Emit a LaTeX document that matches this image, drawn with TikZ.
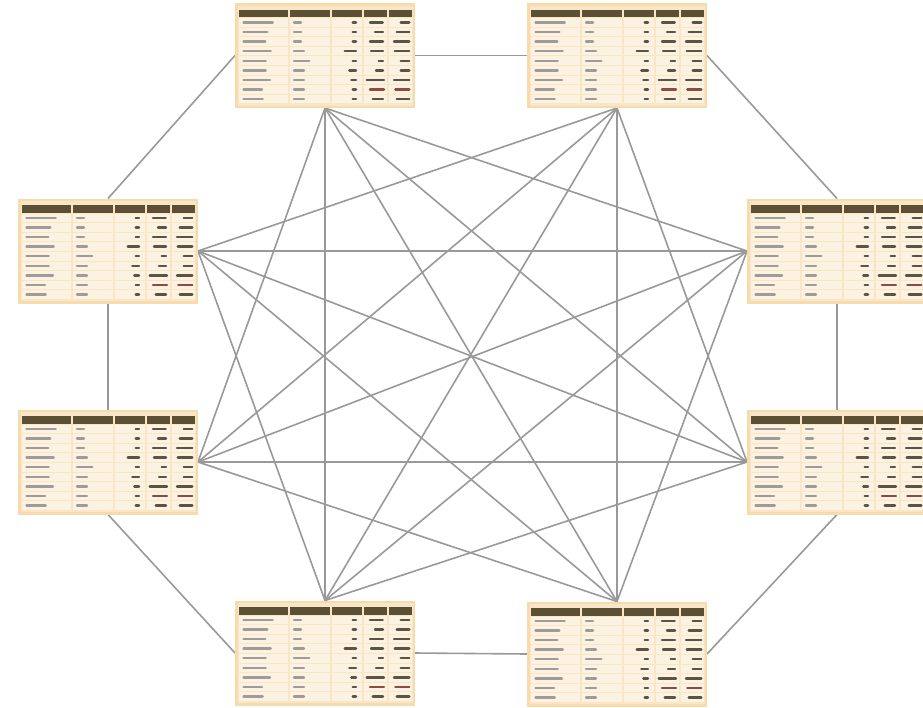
\documentclass[tikz,border=0pt]{standalone}
\definecolor{tblout}{HTML}{F6DBAC}
\definecolor{tblin}{HTML}{F8E6C6}
\definecolor{cellc}{HTML}{FCF2E2}
\definecolor{hdrc}{HTML}{5C5034}
\definecolor{dgray}{HTML}{A09A98}
\definecolor{ddark}{HTML}{5B5440}
\definecolor{dred}{HTML}{8E4A40}
\definecolor{edgec}{HTML}{999999}
\tikzset{
  tnode/.style={rectangle,minimum width=180pt,minimum height=105pt,inner sep=0pt,outer sep=0pt},
  link/.style={draw=edgec,line width=1.6pt},
  dsh/.style={line width=2.4pt,line cap=round},
  tbl/.pic={
    \fill[tblout] (0,0) rectangle (180,105);
    \fill[tblin] (2.5,2.5) rectangle (177.5,102.5);
    \foreach \a/\b in {4/53,55/95,97/127,129/152,154/177}{
      \fill[hdrc] (\a,6.5) rectangle (\b,14);
      \foreach \i in {0,...,8}{
        \fill[cellc] (\a,15+\i*9.6) rectangle (\b,23.6+\i*9.6);
      }
    }
    \foreach \i/\ca/\cb/\cc/\cd/\ce/\cf/\col in {
      0/37.7/66/117.7/135/147.7/165.7/ddark,
      1/32.3/66/117.7/140/148/161.7/ddark,
      2/30.3/66/117.7/135/148/159/ddark,
      3/35.7/69/109.7/136/148/159.7/ddark,
      4/30.7/74.3/117.7/143.7/148/165.7/ddark,
      5/30.7/69/114.3/141/148/165.7/ddark,
      6/35/69/116.3/131.7/149/159/ddark,
      7/27/69/117.7/135/149/160.3/dred,
      8/27.7/69/117.7/137.7/148/161.7/ddark}{
      \draw[dsh,dgray] (8.5,19.3+\i*9.6) -- (\ca,19.3+\i*9.6);
      \draw[dsh,dgray] (59,19.3+\i*9.6) -- (\cb,19.3+\i*9.6);
      \draw[dsh,ddark] (\cc,19.3+\i*9.6) -- (121,19.3+\i*9.6);
      \draw[dsh,\col] (\cd,19.3+\i*9.6) -- (\ce,19.3+\i*9.6);
      \draw[dsh,\col] (\cf,19.3+\i*9.6) -- (174.3,19.3+\i*9.6);
    }
  }
}
\begin{document}
\begin{tikzpicture}[x=1pt,y=-1pt]
\useasboundingbox (0,0) rectangle (923,707);
\clip (0,0) rectangle (923,707);
\node[tnode] (T1) at (325,55.5) {};
\node[tnode] (T2) at (617,55.5) {};
\node[tnode] (T3) at (108,251) {};
\node[tnode] (T4) at (837,251) {};
\node[tnode] (T5) at (108,462) {};
\node[tnode] (T6) at (837,462) {};
\node[tnode] (T7) at (325,653) {};
\node[tnode] (T8) at (617,654) {};
% outer ring
\draw[link] (T1.west) -- (T3.north);
\draw[link] (T1.east) -- (T2.west);
\draw[link] (T2.east) -- (T4.north);
\draw[link] (T3.south) -- (T5.north);
\draw[link] (T4.south) -- (T6.north);
\draw[link] (T5.south) -- (T7.west);
\draw[link] (T7.east) -- (T8.west);
\draw[link] (T8.east) -- (T6.south);
% inner
\coordinate (A1) at (T1.south);
\coordinate (A2) at (T2.south);
\coordinate (A3) at (T3.east);
\coordinate (A4) at (T4.west);
\coordinate (A5) at (T5.east);
\coordinate (A6) at (T6.west);
\coordinate (A7) at (T7.north);
\coordinate (A8) at (T8.north);
\foreach \p/\q in {1/4,1/5,1/6,1/7,1/8,
                   2/3,2/5,2/6,2/7,2/8,
                   3/4,3/6,3/7,3/8,
                   4/5,4/7,4/8,
                   5/6,5/8,
                   6/7}{
  \draw[link] (A\p) -- (A\q);
}
\foreach \n in {T1,T2,T3,T4,T5,T6,T7,T8}{
  \pic at (\n.north west) {tbl};
}
\end{tikzpicture}
\end{document}
